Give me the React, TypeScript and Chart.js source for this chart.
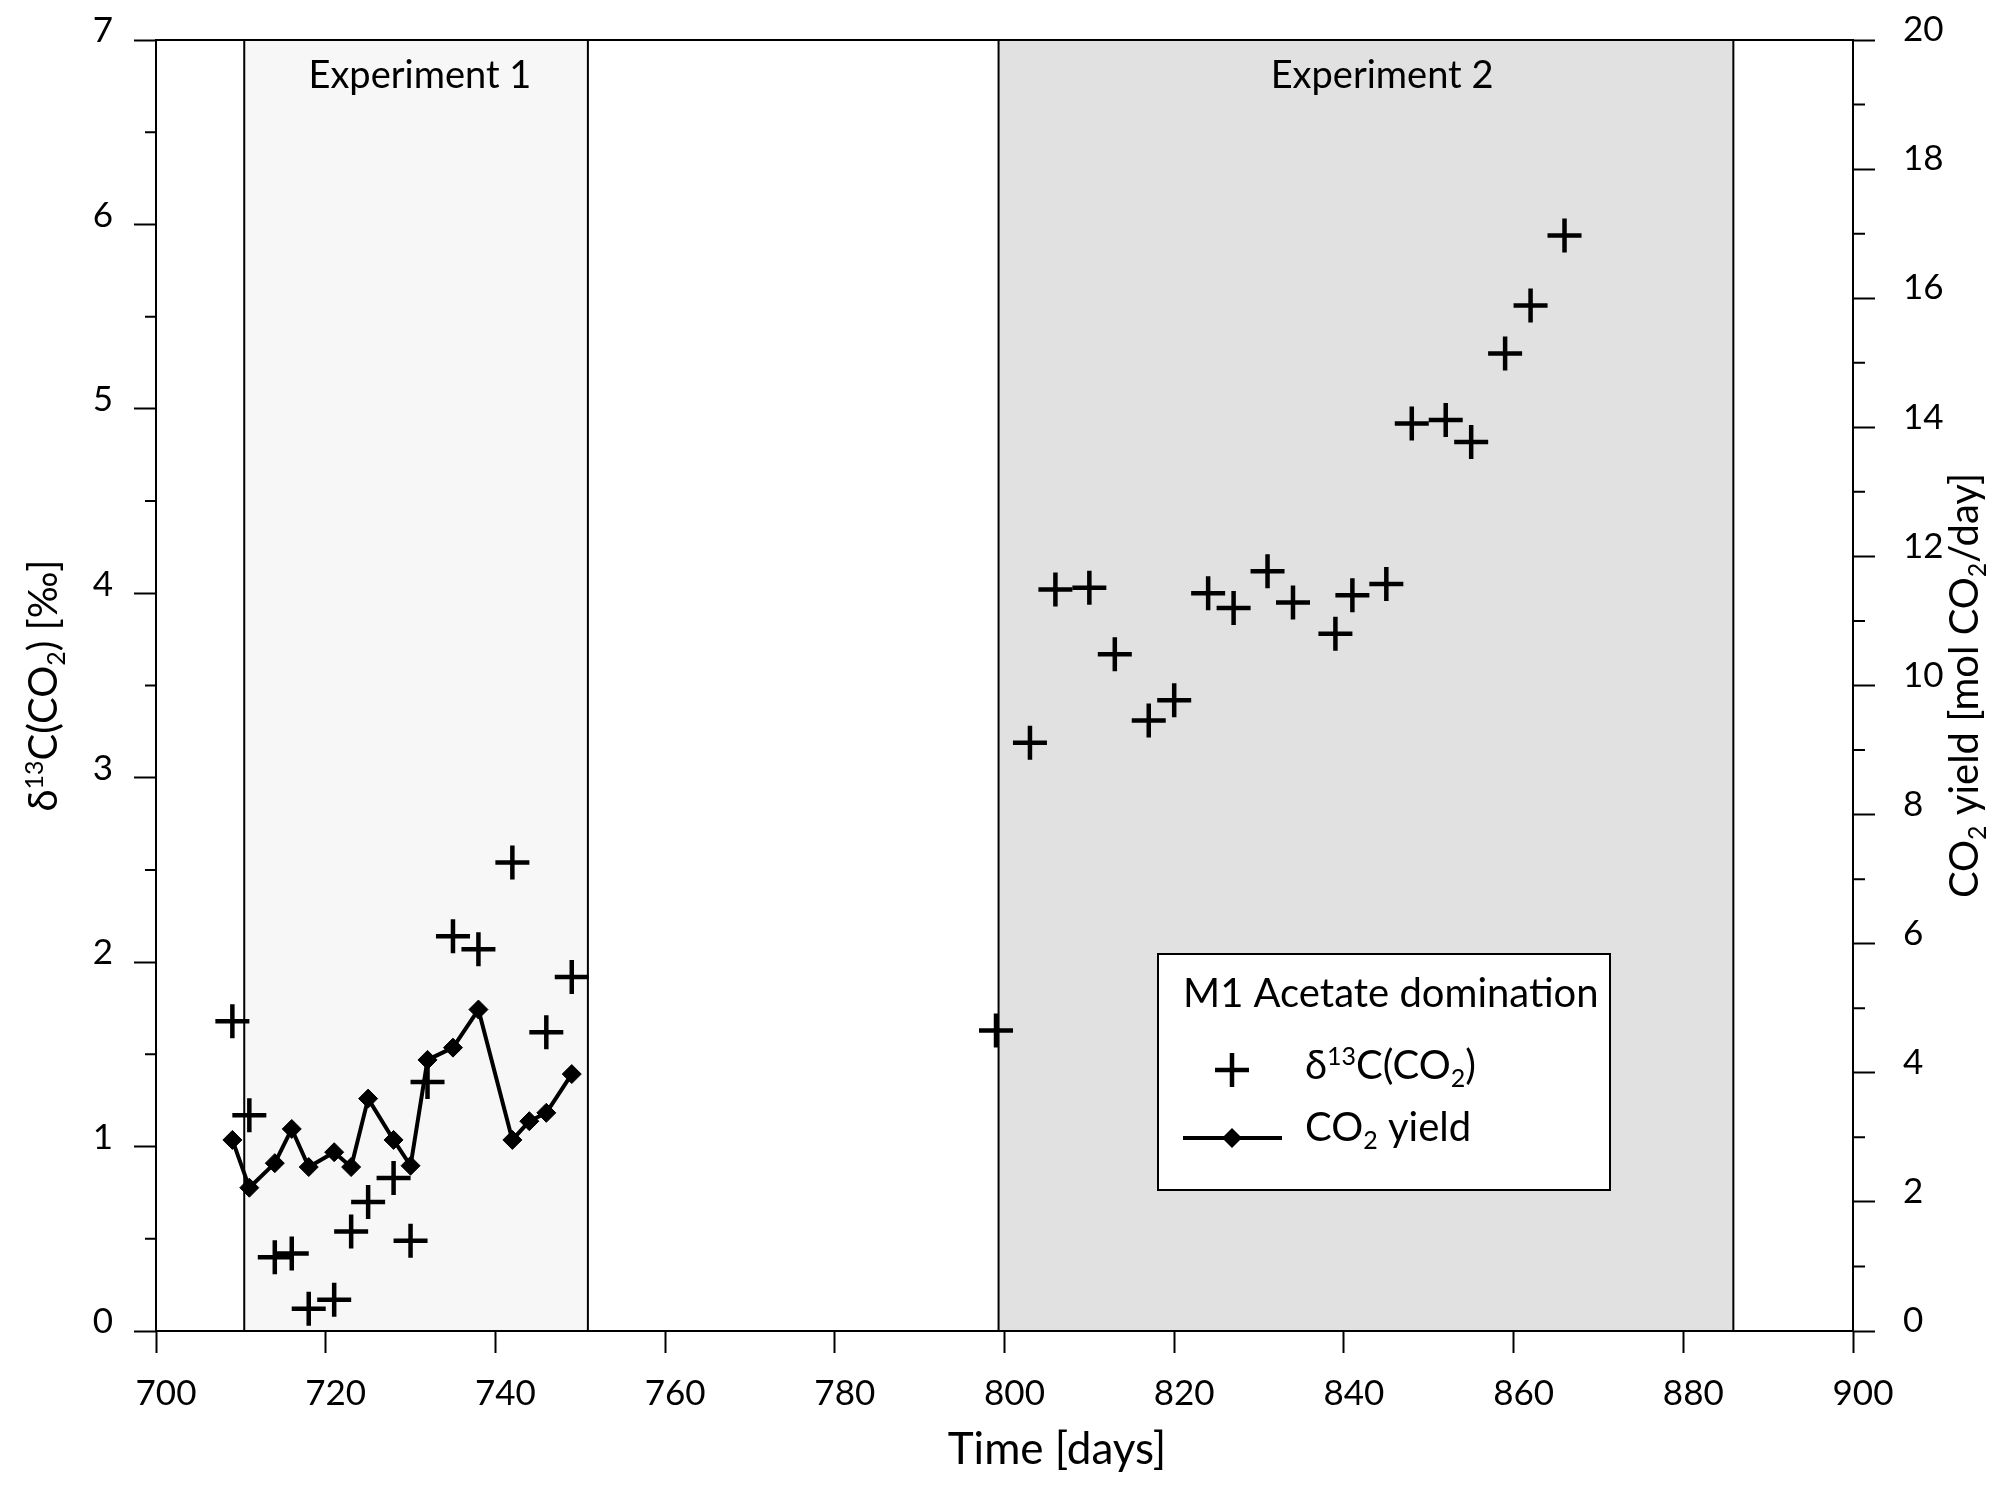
import { useEffect, useRef } from "react"
import { Chart, registerables } from "chart.js"

Chart.register(...registerables)

// δ13C(CO2) measurements [‰]
const deltaDays = [
  709, 711, 714, 716, 718, 721, 723, 725, 728, 730, 732, 735, 738, 742, 746, 749,
  799, 803, 806, 810, 813, 817, 820, 824, 827, 831, 834, 839, 841, 845, 848, 852, 855, 859, 862, 866,
]
const deltaValues = [
  1.68, 1.17, 0.4, 0.42, 0.12, 0.17, 0.54, 0.7, 0.83, 0.49, 1.35, 2.14, 2.07, 2.54, 1.62, 1.92,
  1.63, 3.19, 4.02, 4.03, 3.67, 3.31, 3.42, 4.0, 3.92, 4.12, 3.95, 3.78, 3.99, 4.05, 4.92, 4.94, 4.82, 5.3, 5.56, 5.94,
]

// CO2 yield [mol CO2/day]
const yieldDays = [709, 711, 714, 716, 718, 721, 723, 725, 728, 730, 732, 735, 738, 742, 744, 746, 749]
const yieldValues = [2.96, 2.22, 2.6, 3.13, 2.54, 2.77, 2.54, 3.6, 2.96, 2.56, 4.2, 4.39, 4.98, 2.96, 3.25, 3.38, 3.98]

// experiment windows
const expLabels = ["Experiment 1", "Experiment 2"]
const expStart = [710.4, 799.3]
const expEnd = [750.9, 885.9]
const expLabelDay = [731.1, 844.5]
const expFills = ["#f7f7f7", "#e1e1e1"]

const FONT = '"Lato", "Noto Sans", "DejaVu Sans", sans-serif'

// [text, 1 = superscript, -1 = subscript, 0 = normal]
type Run = [string, number]
const leftTitle: Run[] = [["δ", 0], ["13", 1], ["C(CO", 0], ["2", -1], [") [‰]", 0]]
const rightTitle: Run[] = [["CO", 0], ["2", -1], [" yield [mol CO", 0], ["2", -1], ["/day]", 0]]
const legendDelta: Run[] = [["δ", 0], ["13", 1], ["C(CO", 0], ["2", -1], [")", 0]]
const legendYield: Run[] = [["CO", 0], ["2", -1], [" yield", 0]]

function runFont(size: number, kind: number) {
  return `${kind === 0 ? size : Math.round(size * 0.62)}px ${FONT}`
}

function drawRich(
  ctx: CanvasRenderingContext2D,
  runs: Run[],
  x: number,
  y: number,
  size: number,
  center: boolean,
  rotate = false
) {
  ctx.save()
  ctx.translate(x, y)
  if (rotate) ctx.rotate(-Math.PI / 2)
  ctx.textBaseline = "alphabetic"
  ctx.textAlign = "left"
  let total = 0
  for (const [t, k] of runs) {
    ctx.font = runFont(size, k)
    total += ctx.measureText(t).width
  }
  let cx = center ? -total / 2 : 0
  for (const [t, k] of runs) {
    ctx.font = runFont(size, k)
    const dy = k === 1 ? -size * 0.36 : k === -1 ? size * 0.2 : 0
    ctx.fillText(t, cx, dy)
    cx += ctx.measureText(t).width
  }
  ctx.restore()
}

const decor = {
  id: "decor",
  beforeDatasetsDraw(chart: Chart) {
    const { ctx, chartArea: a } = chart
    const x = chart.scales.x
    ctx.save()
    expStart.forEach((s, i) => {
      const l = x.getPixelForValue(s)
      const r = x.getPixelForValue(expEnd[i])
      ctx.fillStyle = expFills[i]
      ctx.fillRect(l, a.top, r - l, a.bottom - a.top)
      ctx.strokeStyle = "#000"
      ctx.lineWidth = 2
      ctx.strokeRect(l, a.top, r - l, a.bottom - a.top)
    })
    ctx.restore()
  },
  afterDraw(chart: Chart) {
    const { ctx, chartArea: a } = chart
    const { x, y, y1 } = chart.scales
    ctx.save()
    ctx.fillStyle = "#000"
    ctx.strokeStyle = "#000"

    // experiment labels
    ctx.font = `38px ${FONT}`
    ctx.textAlign = "center"
    ctx.textBaseline = "alphabetic"
    expLabels.forEach((t, i) => ctx.fillText(t, x.getPixelForValue(expLabelDay[i]), a.top + 48))

    // frame
    ctx.lineWidth = 2
    ctx.strokeRect(a.left, a.top, a.right - a.left, a.bottom - a.top)

    // minor ticks
    ctx.beginPath()
    for (let v = 0.5; v < 7; v += 1) {
      const p = y.getPixelForValue(v)
      ctx.moveTo(a.left - 11, p)
      ctx.lineTo(a.left, p)
    }
    for (let v = 1; v < 20; v += 2) {
      const p = y1.getPixelForValue(v)
      ctx.moveTo(a.right, p)
      ctx.lineTo(a.right + 12, p)
    }
    ctx.stroke()

    // axis titles
    drawRich(ctx, leftTitle, 57, (a.top + a.bottom) / 2, 40, true, true)
    drawRich(ctx, rightTitle, 1978, (a.top + a.bottom) / 2, 40, true, true)
    ctx.font = `44px ${FONT}`
    ctx.textAlign = "center"
    ctx.fillText("Time [days]", 1057, 1464)

    // legend box
    const lx = a.left + 1002
    const ly = a.top + 914
    ctx.fillStyle = "#fff"
    ctx.fillRect(lx, ly, 452, 236)
    ctx.lineWidth = 2
    ctx.strokeRect(lx, ly, 452, 236)
    ctx.fillStyle = "#000"
    ctx.font = `40px ${FONT}`
    ctx.textAlign = "left"
    ctx.fillText("M1 Acetate domination", lx + 25, ly + 53)

    // cross marker
    ctx.lineWidth = 4.5
    ctx.beginPath()
    ctx.moveTo(lx + 74 - 17, ly + 116)
    ctx.lineTo(lx + 74 + 17, ly + 116)
    ctx.moveTo(lx + 74, ly + 116 - 17)
    ctx.lineTo(lx + 74, ly + 116 + 17)
    ctx.stroke()
    drawRich(ctx, legendDelta, lx + 147, ly + 125, 40, false)

    // line + diamond marker
    ctx.lineWidth = 4
    ctx.beginPath()
    ctx.moveTo(lx + 25, ly + 184)
    ctx.lineTo(lx + 124, ly + 184)
    ctx.stroke()
    ctx.beginPath()
    ctx.moveTo(lx + 74 - 10, ly + 184)
    ctx.lineTo(lx + 74, ly + 184 - 10)
    ctx.lineTo(lx + 74 + 10, ly + 184)
    ctx.lineTo(lx + 74, ly + 184 + 10)
    ctx.closePath()
    ctx.fill()
    drawRich(ctx, legendYield, lx + 147, ly + 187, 40, false)

    ctx.restore()
  },
}

const tickFont = { family: FONT, size: 35 }
const tickGrid = {
  drawOnChartArea: false,
  drawTicks: true,
  tickLength: 22,
  tickWidth: 2,
  tickColor: "#000",
}

export default function App() {
  const chartRef = useRef<HTMLCanvasElement>(null)
  const chartInstance = useRef<Chart | null>(null)

  useEffect(() => {
    document.body.style.margin = "0"
    if (!chartRef.current) return
    if (chartInstance.current) chartInstance.current.destroy()

    const ctx = chartRef.current.getContext("2d")
    if (!ctx) return

    chartInstance.current = new Chart(ctx, {
      type: "scatter",
      data: {
        datasets: [
          {
            label: "δ13C(CO2)",
            data: deltaDays.map((d, i) => ({ x: d, y: deltaValues[i] })),
            yAxisID: "y",
            pointStyle: "cross",
            pointRadius: 17,
            pointBorderWidth: 4.5,
            borderColor: "#000",
            backgroundColor: "#000",
            showLine: false,
          },
          {
            label: "CO2 yield",
            data: yieldDays.map((d, i) => ({ x: d, y: yieldValues[i] })),
            yAxisID: "y1",
            showLine: true,
            borderColor: "#000",
            borderWidth: 4,
            borderJoinStyle: "round",
            pointStyle: "rectRot",
            pointRadius: 9.5,
            pointBorderWidth: 1,
            pointBackgroundColor: "#000",
            pointBorderColor: "#000",
            tension: 0,
          },
        ],
      },
      options: {
        responsive: true,
        maintainAspectRatio: false,
        animation: false,
        devicePixelRatio: 1,
        layout: { padding: { top: 40, left: 0, right: 0, bottom: 0 } },
        plugins: {
          legend: { display: false },
          tooltip: { enabled: false },
        },
        scales: {
          x: {
            type: "linear",
            min: 700,
            max: 900,
            ticks: { stepSize: 20, font: tickFont, color: "#000", padding: 20, labelOffset: 10 },
            grid: tickGrid,
            border: { display: false },
            afterFit: (s) => {
              s.height = 158
            },
          },
          y: {
            position: "left",
            min: 0,
            max: 7,
            ticks: { stepSize: 1, font: tickFont, color: "#000", padding: 21, labelOffset: -9 },
            grid: tickGrid,
            border: { display: false },
            afterFit: (s) => {
              s.width = 156
              s.paddingTop = 0
              s.paddingBottom = 0
            },
          },
          y1: {
            position: "right",
            min: 0,
            max: 20,
            ticks: { stepSize: 2, font: tickFont, color: "#000", padding: 28, labelOffset: -10 },
            grid: tickGrid,
            border: { display: false },
            afterFit: (s) => {
              s.width = 160
              s.paddingTop = 0
              s.paddingBottom = 0
            },
          },
        },
      },
      plugins: [decor],
    })

    return () => {
      if (chartInstance.current) {
        chartInstance.current.destroy()
        chartInstance.current = null
      }
    }
  }, [])

  return (
    <div style={{ width: 2013, height: 1489, position: "relative", background: "#fff" }}>
      <canvas ref={chartRef} />
    </div>
  )
}
